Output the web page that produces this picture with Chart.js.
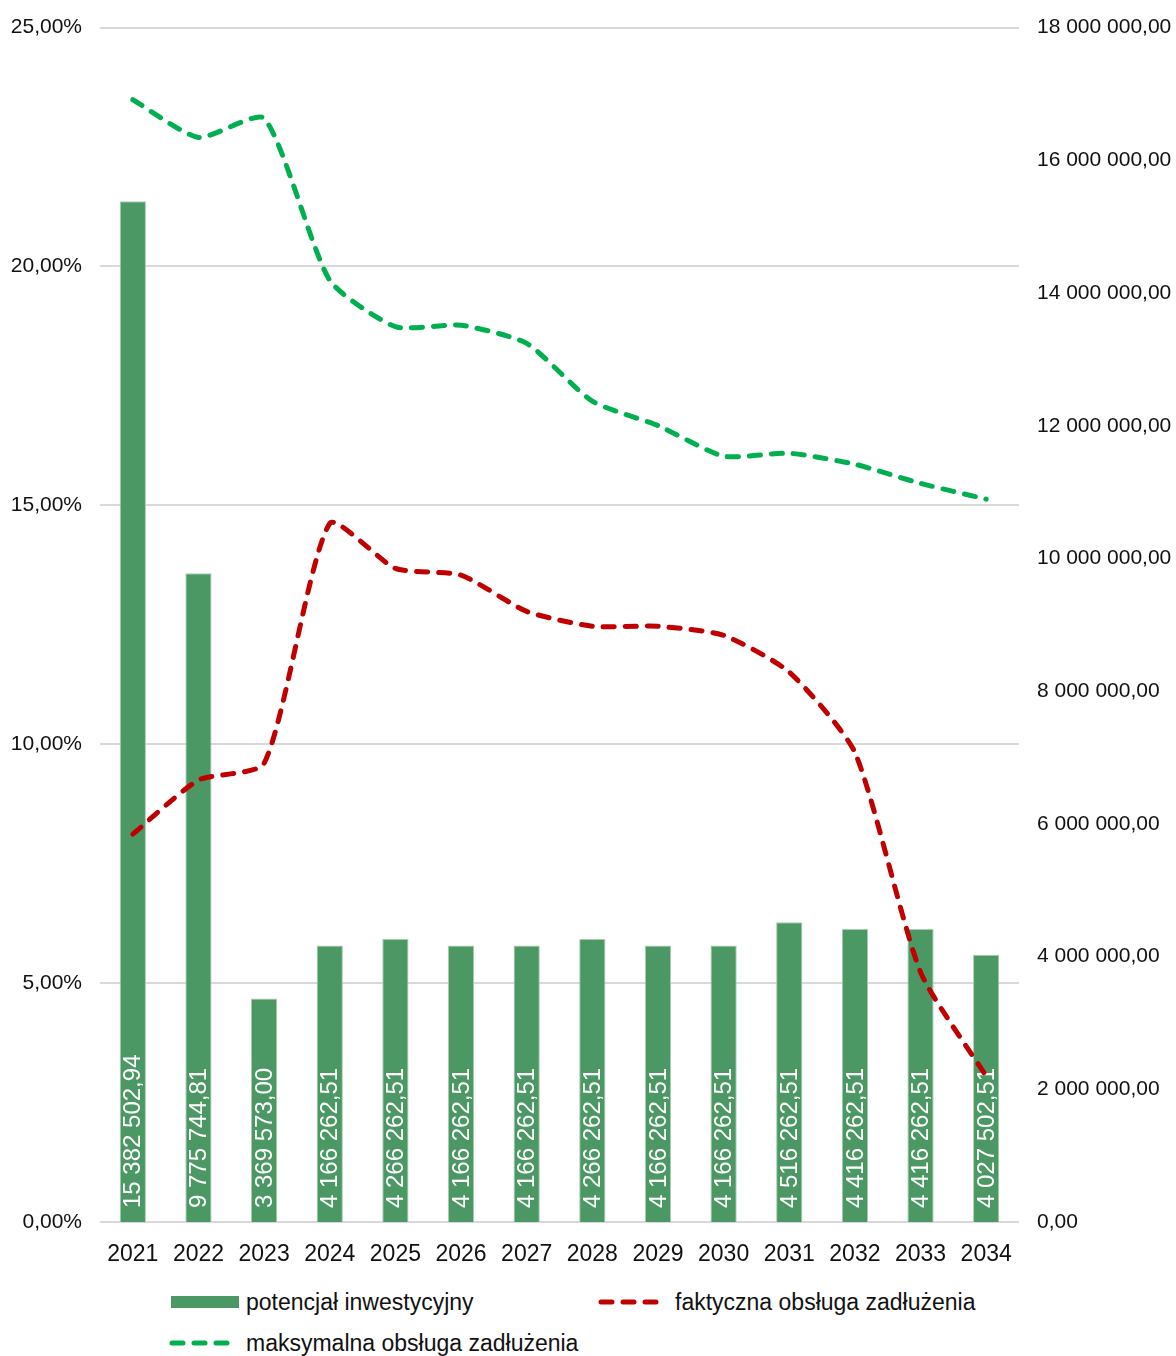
<!DOCTYPE html>
<html lang="pl">
<head>
<meta charset="utf-8">
<title>Potencjał inwestycyjny i obsługa zadłużenia</title>
<script src="https://cdn.jsdelivr.net/npm/chart.js@4/dist/chart.umd.min.js"></script>
<style>
  html, body { margin: 0; padding: 0; background: #fff; }
  body { width: 1176px; height: 1356px; position: relative; overflow: hidden;
         font-family: "Liberation Sans", Arial, sans-serif; color: #111; }
  #wrap { position: absolute; left: 0; top: -3px; width: 1176px; height: 1278px; }
  .legend-item { position: absolute; display: flex; align-items: center; font-size: 23px; white-space: nowrap; }
  .legend-item svg { margin-right: 7px; }
</style>
</head>
<body>
<div id="wrap"><canvas id="chart" width="1176" height="1278"></canvas></div>

<div class="legend-item" style="left:171px; top:1288px;">
  <svg width="68" height="28"><rect x="0" y="8" width="68" height="12" fill="#4c9864"/></svg>
  <span>potencjał inwestycyjny</span>
</div>
<div class="legend-item" style="left:598px; top:1288px;">
  <svg width="70" height="28"><line x1="3" y1="14" x2="63" y2="14" stroke="#c00000" stroke-width="5" stroke-linecap="round" stroke-dasharray="11 11"/></svg>
  <span>faktyczna obsługa zadłużenia</span>
</div>
<div class="legend-item" style="left:169px; top:1329px;">
  <svg width="70" height="28"><line x1="3" y1="14" x2="63" y2="14" stroke="#00b050" stroke-width="5" stroke-linecap="round" stroke-dasharray="11 11"/></svg>
  <span>maksymalna obsługa zadłużenia</span>
</div>

<script>
// Dane wykresu
const years = ["2021", "2022", "2023", "2024", "2025", "2026", "2027",
               "2028", "2029", "2030", "2031", "2032", "2033", "2034"];

// potencjał inwestycyjny (zł) - oś prawa
const investPotential = [15382502.94, 9775744.81, 3369573.00, 4166262.51, 4266262.51,
                         4166262.51, 4166262.51, 4266262.51, 4166262.51, 4166262.51,
                         4516262.51, 4416262.51, 4416262.51, 4027502.51];

// faktyczna obsługa zadłużenia (%) - oś lewa
const actualDebtService = [8.12, 9.25, 9.60, 14.62, 13.68, 13.54, 12.78,
                           12.47, 12.47, 12.28, 11.51, 9.83, 5.23, 3.05];

// maksymalna obsługa zadłużenia (%) - oś lewa
const maxDebtService = [23.49, 22.70, 23.10, 19.71, 18.74, 18.77, 18.39,
                        17.18, 16.67, 16.03, 16.09, 15.86, 15.46, 15.13];

const leftAxis = { min: 0, max: 25, step: 5 };
const rightAxis = { min: 0, max: 18000000, step: 2000000 };

const textColor = "#111";
const gridColor = "#d9d9d9";

// format "15 382 502,94"
function formatMoney(v) {
  const parts = Number(v).toFixed(2).split(".");
  const intPart = parts[0].replace(/\B(?=(\d{3})+(?!\d))/g, " ");
  return intPart + "," + parts[1];
}

// etykiety wewnątrz słupków (pionowo, przy podstawie)
const barLabels = {
  id: "barLabels",
  afterDatasetDraw(chart, args) {
    if (args.index !== 0) return;
    const ctx = chart.ctx;
    const meta = chart.getDatasetMeta(0);
    ctx.save();
    ctx.fillStyle = "#ffffff";
    ctx.font = '24px "Liberation Sans", Arial, sans-serif';
    ctx.textAlign = "left";
    ctx.textBaseline = "middle";
    meta.data.forEach((bar, i) => {
      ctx.save();
      ctx.translate(bar.x + 1, bar.base - 14);
      ctx.rotate(-Math.PI / 2);
      ctx.fillText(formatMoney(investPotential[i]), 0, 0);
      ctx.restore();
    });
    ctx.restore();
  }
};

const ctx = document.getElementById("chart").getContext("2d");
const chart = new Chart(ctx, {
  type: "bar",
  data: {
    labels: years,
    datasets: [
      {
        type: "bar",
        label: "potencjał inwestycyjny",
        data: investPotential,
        yAxisID: "y1",
        backgroundColor: "#4c9864",
        borderColor: "#a9cdb3",
        borderWidth: 1,
        barPercentage: 0.4,
        categoryPercentage: 1.0,
        order: 3,
      },
      {
        type: "line",
        label: "faktyczna obsługa zadłużenia",
        data: actualDebtService,
        yAxisID: "y",
        borderColor: "#c00000",
        borderWidth: 5,
        borderDash: [11, 11],
        borderCapStyle: "round",
        borderJoinStyle: "round",
        tension: 0.2,
        pointRadius: 0,
        fill: false,
        order: 1,
      },
      {
        type: "line",
        label: "maksymalna obsługa zadłużenia",
        data: maxDebtService,
        yAxisID: "y",
        borderColor: "#00b050",
        borderWidth: 5,
        borderDash: [11, 11],
        borderCapStyle: "round",
        borderJoinStyle: "round",
        tension: 0.2,
        pointRadius: 0,
        fill: false,
        order: 2,
      },
    ],
  },
  options: {
    responsive: false,
    animation: false,
    layout: { padding: { top: 21, left: 0, right: 0, bottom: 0 } },
    plugins: {
      legend: { display: false },
      tooltip: { enabled: false },
    },
    scales: {
      x: {
        grid: { display: false },
        border: { display: false },
        ticks: {
          color: textColor,
          font: { family: '"Liberation Sans", Arial, sans-serif', size: 23 },
          padding: 11,
          maxRotation: 0,
        },
        afterFit(scale) { scale.height = 53; },
      },
      y: {
        position: "left",
        min: leftAxis.min,
        max: leftAxis.max,
        grid: { color: gridColor, lineWidth: 2, drawTicks: false },
        border: { display: false },
        ticks: {
          stepSize: leftAxis.step,
          color: textColor,
          padding: 18,
          font: { family: '"Liberation Sans", Arial, sans-serif', size: 21 },
          callback: (v) => v.toFixed(2).replace(".", ",") + "%",
        },
        afterFit(scale) { scale.width = 100; },
      },
      y1: {
        position: "right",
        min: rightAxis.min,
        max: rightAxis.max,
        grid: { display: false, drawTicks: false },
        border: { display: false },
        ticks: {
          stepSize: rightAxis.step,
          color: textColor,
          padding: 18,
          font: { family: '"Liberation Sans", Arial, sans-serif', size: 21 },
          callback: (v) => formatMoney(v),
        },
        afterFit(scale) { scale.width = 157; },
      },
    },
  },
  plugins: [barLabels],
});
</script>
</body>
</html>
